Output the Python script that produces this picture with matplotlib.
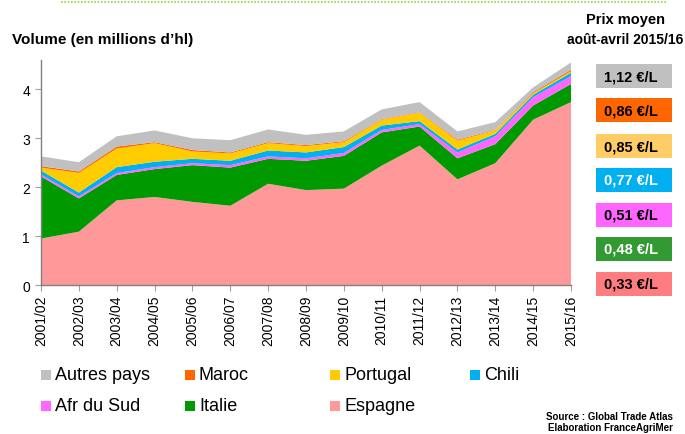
import matplotlib.pyplot as plt
from matplotlib.patches import Rectangle
from matplotlib.lines import Line2D

plt.rcParams["font.family"] = ["Liberation Sans", "DejaVu Sans"]

# Campaigns
seasons = ["2001/02", "2002/03", "2003/04", "2004/05", "2005/06", "2006/07",
           "2007/08", "2008/09", "2009/10", "2010/11", "2011/12", "2012/13",
           "2013/14", "2014/15", "2015/16"]

# Volumes (millions hl), stacked from bottom to top
espagne = [0.95, 1.09, 1.73, 1.80, 1.70, 1.62, 2.07, 1.94, 1.97, 2.44, 2.85, 2.16, 2.49, 3.38, 3.74]
italie = [1.27, 0.68, 0.52, 0.57, 0.75, 0.78, 0.51, 0.60, 0.67, 0.68, 0.39, 0.43, 0.39, 0.29, 0.37]
afr_du_sud = [0.04, 0.04, 0.04, 0.04, 0.04, 0.05, 0.05, 0.05, 0.06, 0.05, 0.05, 0.12, 0.16, 0.17, 0.16]
chili = [0.08, 0.08, 0.12, 0.11, 0.09, 0.09, 0.12, 0.12, 0.12, 0.09, 0.06, 0.06, 0.05, 0.05, 0.07]
portugal = [0.06, 0.40, 0.38, 0.38, 0.15, 0.15, 0.15, 0.13, 0.10, 0.12, 0.17, 0.18, 0.07, 0.03, 0.03]
maroc = [0.03, 0.03, 0.04, 0.02, 0.03, 0.02, 0.02, 0.02, 0.02, 0.01, 0.01, 0.02, 0.01, 0.02, 0.03]
autres = [0.20, 0.19, 0.21, 0.24, 0.24, 0.25, 0.26, 0.21, 0.20, 0.20, 0.21, 0.17, 0.16, 0.10, 0.15]

series_names = ["Espagne", "Italie", "Afr du Sud", "Chili", "Portugal", "Maroc", "Autres pays"]
series_colors = ["#FF9999", "#009900", "#FF66FF", "#00B0F0", "#FFCC00", "#FF6600", "#C0C0C0"]

# Average price Aug-Apr 2015/16, same order as the series
prices = ["0,33 €/L", "0,48 €/L", "0,51 €/L", "0,77 €/L", "0,85 €/L", "0,86 €/L", "1,12 €/L"]
price_colors = ["#FF7C80", "#339933", "#FF66FF", "#00B0F0", "#FFCC66", "#FF6600", "#C0C0C0"]
price_text_colors = ["black", "white", "black", "white", "black", "black", "black"]

W, H = 685, 435
fig = plt.figure(figsize=(6.85, 4.35), dpi=100)
ax = fig.add_axes([41 / W, 1 - 286 / H, 530 / W, 225 / H])

x = range(len(seasons))
ax.stackplot(x, espagne, italie, afr_du_sud, chili, portugal, maroc, autres,
             colors=series_colors, linewidth=0)

ax.set_xlim(0, len(seasons) - 1)
ax.set_ylim(0, 4.6)
ax.set_xticks(list(x))
ax.set_xticklabels(seasons, rotation=90, fontsize=10)
ax.set_yticks([0, 1, 2, 3, 4])
ax.tick_params(axis="y", labelsize=10, length=4, color="#A0A0A0", pad=4)
ax.tick_params(axis="x", length=4, color="#A0A0A0", pad=3)
for s in ["top", "right"]:
    ax.spines[s].set_visible(False)
for s in ["left", "bottom"]:
    ax.spines[s].set_color("#808080")
    ax.spines[s].set_linewidth(1)

# Titles
fig.text(12 / W, 1 - 40 / H, "Volume (en millions d\u2019hl)", fontsize=11,
         fontweight="bold", ha="left", va="center")
fig.text(625 / W, 1 - 20 / H, "Prix moyen", fontsize=10.5, fontweight="bold",
         ha="center", va="center")
fig.text(625 / W, 1 - 40 / H, "août-avril 2015/16", fontsize=10, fontweight="bold",
         ha="center", va="center")

# Dotted green line at top
fig.add_artist(Line2D([61 / W, 667 / W], [1 - 3 / H, 1 - 3 / H], color="#92D050",
                      linestyle=(0, (1, 1)), linewidth=1.2))

# Price boxes (top = Autres pays)
box_tops = [273, 238, 204, 169, 135, 99, 65]
for top, label, col, tcol in zip(box_tops, prices, price_colors, price_text_colors):
    fig.add_artist(Rectangle((596 / W, 1 - (top + 24) / H), 76 / W, 24 / H,
                             facecolor=col, edgecolor="none"))
    fig.text(604 / W, 1 - (top + 12) / H, label, fontsize=10.5, fontweight="bold",
             color=tcol, ha="left", va="center")

# Legend, laid out row by row
legend_order = [6, 5, 4, 3, 2, 1, 0]
legend_xy = [(41, 376), (185, 376), (330, 376), (470, 376),
             (41, 407), (185, 407), (330, 407)]
for idx, (lx, ly) in zip(legend_order, legend_xy):
    fig.add_artist(Rectangle((lx / W, 1 - (ly + 5) / H), 10 / W, 10 / H,
                             facecolor=series_colors[idx], edgecolor="none"))
    fig.text((lx + 14) / W, 1 - ly / H, series_names[idx], fontsize=13,
             ha="left", va="center")

fig.text(673 / W, 1 - 417 / H, "Source : Global Trade Atlas", fontsize=7,
         fontweight="bold", ha="right", va="center")
fig.text(673 / W, 1 - 428 / H, "Elaboration FranceAgriMer", fontsize=7,
         fontweight="bold", ha="right", va="center")

fig.savefig("out.png", dpi=100)
